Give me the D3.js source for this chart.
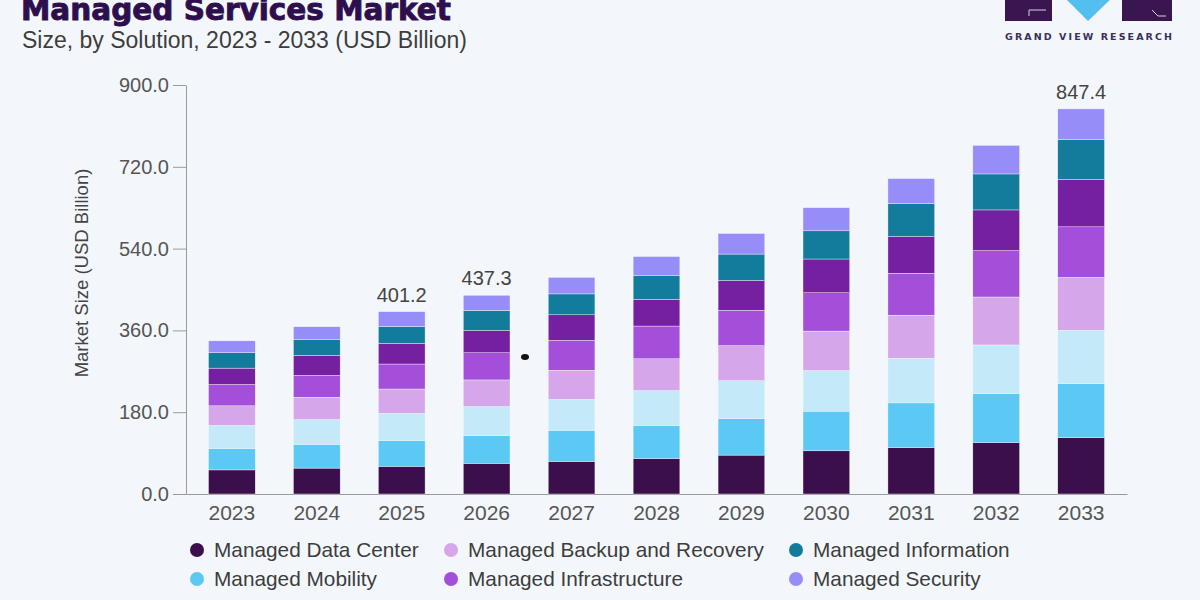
<!DOCTYPE html>
<html>
<head>
<meta charset="utf-8">
<script src="https://cdn.jsdelivr.net/npm/d3@7"></script>
<style>
  html, body { margin: 0; padding: 0; background: #f3f7fb; }
  svg { display: block; font-family: "Liberation Sans", Arial, sans-serif; }
  .axis path, .axis line { stroke: #9a9a9a; }
  .axis text { fill: #555; font-size: 20px; }
  .x.axis text { font-size: 21px; }
</style>
</head>
<body>
<svg id="chart" width="1200" height="600"></svg>
<script>
"use strict";

const years = ["2023", "2024", "2025", "2026", "2027", "2028", "2029", "2030", "2031", "2032", "2033"];
const seriesNames = [
    "Managed Data Center", "Managed Mobility", "Managed Network",
    "Managed Backup and Recovery", "Managed Infrastructure", "Managed Communication",
    "Managed Information", "Managed Security"
];
const dataCenter     = [53, 57, 61, 67.5, 71.8, 78.2, 85.6, 95, 102.2, 113.2, 123.9];
const mobility       = [47, 52, 56.5, 60.8, 68.6, 73, 79.9, 87.3, 98.3, 107.9, 118.7];
const network        = [51, 55, 60, 64.2, 67.9, 76.4, 83.9, 89.5, 98.3, 106.9, 117.8];
const backup         = [43, 49, 53.5, 58.5, 64.1, 69.9, 77.1, 86.7, 94.7, 105.5, 116.3];
const infrastructure = [47, 48, 55, 59.8, 65.7, 72.1, 78, 84.3, 92.4, 102, 111.2];
const communication  = [36, 44, 45.2, 49.1, 56.2, 58.9, 65.4, 74.3, 80.9, 89.6, 104.7];
const information    = [34, 35, 37.2, 43.9, 46, 52.5, 58.1, 62, 72.1, 79.2, 87.3];
const security       = [26, 28, 32.8, 33.5, 36.3, 41.5, 45.2, 50.9, 55.2, 62.8, 67.5];
const yTicks = [0, 180, 360, 540, 720, 900];
const labeledYears = ["2025", "2026", "2033"];

const seriesValues = [dataCenter, mobility, network, backup, infrastructure, communication, information, security];
const colors = ["#3a0f4c", "#5cc9f5", "#c4eaf9", "#d5a6e9", "#a34fd9", "#7420a1", "#137b9c", "#978df9"];

// table for d3.stack
const table = years.map((y, i) => {
    const row = { year: y };
    seriesNames.forEach((s, k) => { row[s] = seriesValues[k][i]; });
    return row;
});

const svg = d3.select("#chart");

const xScale = d3.scaleBand()
    .domain(years)
    .range([186, 1127])
    .paddingInner(0.45)
    .paddingOuter(0.265);

const yScale = d3.scaleLinear().domain([0, 900]).range([494, 85]);

// title
svg.append("text")
    .attr("x", 21).attr("y", 20)
    .style("font-family", "'DejaVu Sans', sans-serif")
    .style("font-weight", "bold")
    .style("font-size", "29.5px")
    .attr("fill", "#2e0f4e")
    .attr("stroke", "#2e0f4e")
    .attr("stroke-width", 0.9)
    .text("Managed Services Market");

svg.append("text")
    .attr("x", 22).attr("y", 48)
    .style("font-size", "23px")
    .attr("fill", "#3d3d3d")
    .text("Size, by Solution, 2023 - 2033 (USD Billion)");

// logo
const logo = svg.append("g");
logo.append("rect").attr("x", 1005).attr("y", -5).attr("width", 47).attr("height", 26).attr("fill", "#3a1650");
logo.append("rect").attr("x", 1122).attr("y", -5).attr("width", 50).attr("height", 26).attr("fill", "#3a1650");
logo.append("path").attr("d", "M1062,-5 L1115,-5 L1088,21 Z").attr("fill", "#52bff0");
logo.append("path").attr("d", "M1029,16 L1029,10 L1046,10").attr("fill", "none").attr("stroke", "#d8d0e4").attr("stroke-width", 1);
logo.append("path").attr("d", "M1152,10 L1158,16 L1166,16").attr("fill", "none").attr("stroke", "#d8d0e4").attr("stroke-width", 1);
logo.append("text")
    .attr("x", 1005).attr("y", 40)
    .attr("textLength", 167)
    .style("font-family", "'DejaVu Sans', sans-serif")
    .style("font-weight", "bold")
    .style("font-size", "9.5px")
    .attr("fill", "#3b2f5c")
    .text("GRAND VIEW RESEARCH");

// axes
svg.append("g")
    .attr("class", "y axis")
    .attr("transform", "translate(186,0)")
    .call(d3.axisLeft(yScale).tickValues(yTicks).tickFormat(d3.format(".1f")).tickSize(13).tickSizeOuter(0).tickPadding(4));

svg.append("g")
    .attr("class", "x axis")
    .attr("transform", "translate(0,494)")
    .call(d3.axisBottom(xScale).tickSize(0).tickSizeOuter(0).tickPadding(11));

svg.append("text")
    .attr("transform", "translate(88,273) rotate(-90)")
    .attr("text-anchor", "middle")
    .style("font-size", "18.5px")
    .attr("fill", "#444")
    .text("Market Size (USD Billion)");

// stacked bars
const stacked = d3.stack().keys(seriesNames)(table);

svg.append("g")
    .selectAll("g")
    .data(stacked)
    .join("g")
    .attr("fill", (d, k) => colors[k])
    .selectAll("rect")
    .data(d => d)
    .join("rect")
    .attr("x", d => xScale(d.data.year))
    .attr("y", d => yScale(d[1]))
    .attr("height", d => yScale(d[0]) - yScale(d[1]))
    .attr("width", xScale.bandwidth())
    .attr("stroke", "#f3f7fb")
    .attr("stroke-width", 0.4);

// totals
svg.append("g")
    .selectAll("text")
    .data(table.filter(r => labeledYears.includes(r.year)))
    .join("text")
    .attr("x", r => xScale(r.year) + xScale.bandwidth() / 2)
    .attr("y", r => yScale(d3.sum(seriesNames, s => r[s])) - 10)
    .attr("text-anchor", "middle")
    .style("font-size", "20px")
    .attr("fill", "#444")
    .text(r => d3.sum(seriesNames, s => r[s]).toFixed(1));

// stray dot seen in the picture
svg.append("ellipse").attr("cx", 525).attr("cy", 357).attr("rx", 4).attr("ry", 3).attr("fill", "#111");

// legend: column-first, 3 columns
const legendCols = [197, 451, 796];
const legendRows = [550, 579, 608];
const legendOrder = [
    [0, 0], [0, 1], [0, 2],
    [1, 0], [1, 1], [1, 2],
    [2, 0], [2, 1]
];
const legend = svg.append("g")
    .selectAll("g")
    .data(seriesNames)
    .join("g")
    .attr("transform", (d, k) => `translate(${legendCols[legendOrder[k][0]]},${legendRows[legendOrder[k][1]]})`);

legend.append("circle").attr("r", 7).attr("fill", (d, k) => colors[k]);
legend.append("text")
    .attr("x", 17).attr("y", 7)
    .style("font-size", "20.8px")
    .attr("fill", "#3d3d3d")
    .text(d => d);
</script>
</body>
</html>
